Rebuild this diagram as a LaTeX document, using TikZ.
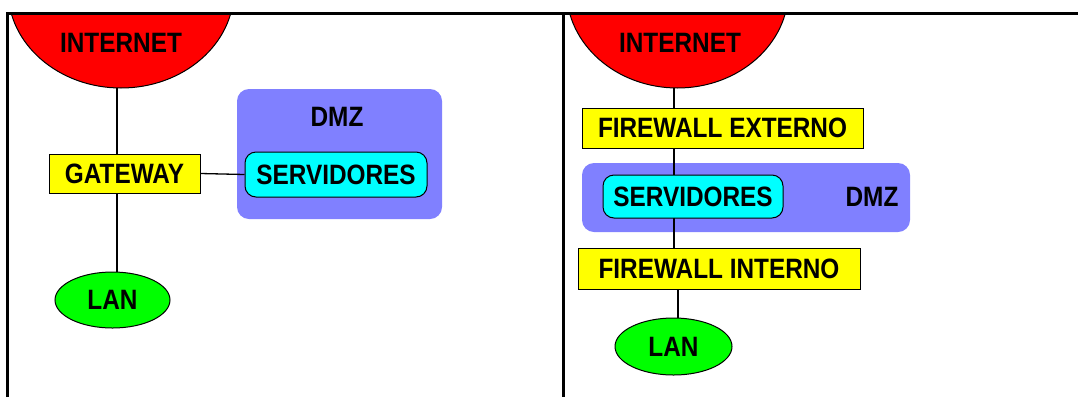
\documentclass[tikz,border=0pt]{standalone}
\usepackage{fontspec}
\newfontfamily\labfont{Liberation Sans}[FakeStretch=0.87]
\usetikzlibrary{shapes.geometric}

\definecolor{inetred}{RGB}{255,0,0}
\definecolor{fwyellow}{RGB}{255,255,0}
\definecolor{srvcyan}{RGB}{0,255,255}
\definecolor{langreen}{RGB}{0,255,0}
\definecolor{dmzblue}{RGB}{128,128,255}

\pgfdeclarelayer{paper}
\pgfdeclarelayer{zones}
\pgfdeclarelayer{links}
\pgfsetlayers{paper,zones,links,main}

\tikzset{
  lab/.style={font=\labfont\bfseries\fontsize{28}{30}\selectfont, inner sep=0pt},
  boxnode/.style={lab, draw=black, line width=1pt, fill=fwyellow, rectangle},
  srvnode/.style={lab, draw=black, line width=1pt, fill=srvcyan, rectangle, rounded corners=11pt},
  lannode/.style={lab, draw=black, line width=1pt, fill=langreen, ellipse},
  dmzzone/.style={fill=dmzblue, rounded corners=12pt, rectangle, inner sep=0pt},
  link/.style={draw=black, line width=1.3pt},
  frameline/.style={draw=black, line width=3pt},
  cloud/.style={fill=inetred, draw=black, line width=1pt}
}

\begin{document}
\begin{tikzpicture}[x=1pt, y=-1pt]
\begin{pgfonlayer}{paper}
  \fill[white] (0,0) rectangle (1078,397);
\end{pgfonlayer}
\useasboundingbox (0,0) rectangle (1078,397);

% ---------- left panel: single gateway ----------
\begin{scope}
  \clip (7,13) rectangle (563,397);
  \path[cloud] (121,-10) ellipse [x radius=113, y radius=98];
\end{scope}
\node[lab] (inetL) at (121,43) {INTERNET};
\coordinate (inetLb) at (117,88);

\begin{pgfonlayer}{zones}
  \node[dmzzone, minimum width=205pt, minimum height=130pt] (dmzL) at (339.5,154) {};
\end{pgfonlayer}
\node[lab] (dmzLt) at (337,117) {DMZ};

\node[lannode, minimum width=115pt, minimum height=56pt] (lanL) at (112.5,300) {LAN};
\node[boxnode, minimum width=151pt, minimum height=39pt] (gw) at (124.5,173.5) {GATEWAY};
\node[srvnode, minimum width=182pt, minimum height=45pt] (srvL) at (336,174.5) {SERVIDORES};

\begin{pgfonlayer}{links}
  \draw[link] (inetLb) -- (inetLb |- lanL.north);
  \draw[link] (gw.east) -- (srvL.west);
\end{pgfonlayer}

% ---------- right panel: two firewalls ----------
\begin{scope}
  \clip (563,13) rectangle (1078,397);
  \path[cloud] (677.5,-10) ellipse [x radius=111, y radius=98];
\end{scope}
\node[lab] (inetR) at (680,43) {INTERNET};
\coordinate (inetRb) at (674,88);

\begin{pgfonlayer}{zones}
  \node[dmzzone, minimum width=328pt, minimum height=69pt] (dmzR) at (746,197.5) {};
\end{pgfonlayer}
\node[lab] (dmzRt) at (872,197) {DMZ};

\node[boxnode, minimum width=281pt, minimum height=40pt] (fwext) at (722.5,128) {FIREWALL EXTERNO};
\node[srvnode, minimum width=180pt, minimum height=43pt] (srvR) at (693,196.5) {SERVIDORES};
\node[boxnode, minimum width=282pt, minimum height=41pt] (fwint) at (719,268.5) {FIREWALL INTERNO};
\node[lannode, minimum width=117pt, minimum height=57pt] (lanR) at (673.5,346.5) {LAN};
\coordinate (lanRtop) at (678,318);

\begin{pgfonlayer}{links}
  \draw[link] (inetRb) -- (inetRb |- fwint.north);
  \draw[link] (lanRtop |- fwint.south) -- (lanRtop);
\end{pgfonlayer}

% ---------- frame ----------
\draw[frameline] (7,397) -- (7,13) -- (1078,13);
\draw[frameline] (563,13) -- (563,397);
\end{tikzpicture}
\end{document}
